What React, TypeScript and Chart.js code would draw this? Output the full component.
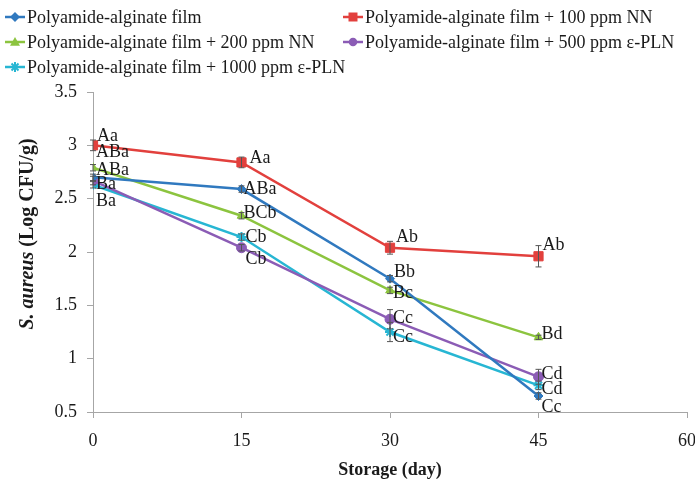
import React, { useEffect, useRef } from "react";
import { Chart, registerables } from "chart.js";

Chart.register(...registerables);

// ---------- data ----------
const days = [0, 15, 30, 45];
const xTicks = [0, 15, 30, 45, 60];
const yTicks = [0.5, 1, 1.5, 2, 2.5, 3, 3.5];

const seriesNames = [
  "Polyamide-alginate film",
  "Polyamide-alginate film + 100 ppm NN",
  "Polyamide-alginate film + 200 ppm NN",
  "Polyamide-alginate film + 500 ppm \u03b5-PLN",
  "Polyamide-alginate film + 1000 ppm \u03b5-PLN",
];

const filmValues = [2.7, 2.59, 1.75, 0.65];
const nn100Values = [3.0, 2.84, 2.04, 1.96];
const nn200Values = [2.79, 2.34, 1.64, 1.2];
const pln500Values = [2.67, 2.04, 1.37, 0.83];
const pln1000Values = [2.63, 2.14, 1.25, 0.75];

const filmErrors = [0.03, 0.03, 0.03, 0.03];
const nn100Errors = [0.05, 0.05, 0.06, 0.1];
const nn200Errors = [0.03, 0.03, 0.03, 0.02];
const pln500Errors = [0.04, 0.03, 0.09, 0.07];
const pln1000Errors = [0.03, 0.03, 0.09, 0.04];

const filmLabels = ["ABa", "ABa", "Bb", "Cc"];
const nn100Labels = ["Aa", "Aa", "Ab", "Ab"];
const nn200Labels = ["ABa", "BCb", "Bc", "Bd"];
const pln500Labels = ["Ba", "Cb", "Cc", "Cd"];
const pln1000Labels = ["Ba", "Cb", "Cc", "Cd"];

// ---------- styling / layout ----------
const colors = ["#3079bf", "#e2403d", "#8cc43f", "#8b5cb5", "#27b6d3"];
const pointStyles = ["rectRot", "rect", "triangle", "circle", "star"];
const pointRadii = [4.5, 6.5, 5, 5, 5];
// label offsets in pixels [dx, dy] per series per point
const labelOffsets = [
  [[3, -7], [2, 0], [4, -6], [3, 11]],
  [[4, -9], [8, -4], [6, -10], [4, -11]],
  [[3, -15], [2, -2], [3, 3], [3, -3]],
  [[3, 4], [4, 12], [3, -1], [3, -3]],
  [[3, 16], [4, 0], [3, 5], [3, 4]],
];

const FONT = "'Liberation Serif', 'Times New Roman', serif";

const allValues = [filmValues, nn100Values, nn200Values, pln500Values, pln1000Values];
const allErrors = [filmErrors, nn100Errors, nn200Errors, pln500Errors, pln1000Errors];
const allLabels = [filmLabels, nn100Labels, nn200Labels, pln500Labels, pln1000Labels];

function drawMarker(ctx: CanvasRenderingContext2D, style: string, x: number, y: number, r: number, color: string) {
  ctx.save();
  ctx.fillStyle = color;
  ctx.strokeStyle = color;
  ctx.lineWidth = 2;
  ctx.beginPath();
  if (style === "rectRot") {
    ctx.moveTo(x, y - r);
    ctx.lineTo(x + r, y);
    ctx.lineTo(x, y + r);
    ctx.lineTo(x - r, y);
    ctx.closePath();
    ctx.fill();
  } else if (style === "rect") {
    ctx.rect(x - r * 0.9, y - r * 0.9, r * 1.8, r * 1.8);
    ctx.fill();
  } else if (style === "triangle") {
    ctx.moveTo(x, y - r);
    ctx.lineTo(x + r, y + r * 0.75);
    ctx.lineTo(x - r, y + r * 0.75);
    ctx.closePath();
    ctx.fill();
  } else if (style === "circle") {
    ctx.arc(x, y, r * 0.85, 0, Math.PI * 2);
    ctx.fill();
  } else {
    ctx.moveTo(x - r, y);
    ctx.lineTo(x + r, y);
    ctx.moveTo(x, y - r);
    ctx.lineTo(x, y + r);
    ctx.moveTo(x - r * 0.7, y - r * 0.7);
    ctx.lineTo(x + r * 0.7, y + r * 0.7);
    ctx.moveTo(x - r * 0.7, y + r * 0.7);
    ctx.lineTo(x + r * 0.7, y - r * 0.7);
    ctx.stroke();
  }
  ctx.restore();
}

const errorBarPlugin = {
  id: "errorBars",
  afterDatasetsDraw(chart: any) {
    const ctx = chart.ctx;
    const xs = chart.scales.x;
    const ys = chart.scales.y;
    ctx.save();
    ctx.strokeStyle = "#555";
    ctx.lineWidth = 1;
    allValues.forEach((vals, si) => {
      vals.forEach((v, i) => {
        const e = allErrors[si][i];
        const px = xs.getPixelForValue(days[i]);
        const top = ys.getPixelForValue(v + e);
        const bot = ys.getPixelForValue(v - e);
        ctx.beginPath();
        ctx.moveTo(px, top);
        ctx.lineTo(px, bot);
        ctx.moveTo(px - 3, top);
        ctx.lineTo(px + 3, top);
        ctx.moveTo(px - 3, bot);
        ctx.lineTo(px + 3, bot);
        ctx.stroke();
      });
    });
    ctx.restore();
  },
};

const pointLabelPlugin = {
  id: "pointLabels",
  afterDatasetsDraw(chart: any) {
    const ctx = chart.ctx;
    const xs = chart.scales.x;
    const ys = chart.scales.y;
    ctx.save();
    ctx.font = `18px ${FONT}`;
    ctx.fillStyle = "#1a1a1a";
    ctx.textAlign = "left";
    ctx.textBaseline = "middle";
    allValues.forEach((vals, si) => {
      vals.forEach((v, i) => {
        const [dx, dy] = labelOffsets[si][i];
        const px = xs.getPixelForValue(days[i]);
        const py = ys.getPixelForValue(v);
        ctx.fillText(allLabels[si][i], px + dx, py + dy);
      });
    });
    ctx.restore();
  },
};

const legendPositions = [
  [5, 17],
  [343, 17],
  [5, 42],
  [343, 42],
  [5, 67],
];

const legendPlugin = {
  id: "customLegend",
  afterDraw(chart: any) {
    const ctx = chart.ctx;
    ctx.save();
    ctx.font = `18px ${FONT}`;
    ctx.fillStyle = "#1a1a1a";
    ctx.textBaseline = "middle";
    ctx.textAlign = "left";
    seriesNames.forEach((name, i) => {
      const [lx, ly] = legendPositions[i];
      ctx.strokeStyle = colors[i];
      ctx.lineWidth = 2.5;
      ctx.beginPath();
      ctx.moveTo(lx, ly);
      ctx.lineTo(lx + 20, ly);
      ctx.stroke();
      drawMarker(ctx, pointStyles[i], lx + 10, ly, 5, colors[i]);
      ctx.fillText(name, lx + 22, ly + 1);
    });
    ctx.restore();
  },
};

const titlesPlugin = {
  id: "axisTitles",
  afterDraw(chart: any) {
    const ctx = chart.ctx;
    const area = chart.chartArea;
    ctx.save();
    ctx.fillStyle = "#1a1a1a";
    ctx.textBaseline = "middle";
    // x title
    ctx.font = `bold 18px ${FONT}`;
    ctx.textAlign = "center";
    ctx.fillText("Storage (day)", (area.left + area.right) / 2, 470);
    // y title (rotated, mixed italic)
    const part1 = "S. aureus";
    const part2 = " (Log CFU/g)";
    const size = 20;
    ctx.font = `italic bold ${size}px ${FONT}`;
    const w1 = ctx.measureText(part1).width;
    ctx.font = `bold ${size}px ${FONT}`;
    const w2 = ctx.measureText(part2).width;
    const total = w1 + w2;
    ctx.translate(28, (area.top + area.bottom) / 2 - 18);
    ctx.rotate(-Math.PI / 2);
    ctx.textAlign = "left";
    ctx.font = `italic bold ${size}px ${FONT}`;
    ctx.fillText(part1, -total / 2, 0);
    ctx.font = `bold ${size}px ${FONT}`;
    ctx.fillText(part2, -total / 2 + w1, 0);
    ctx.restore();
  },
};

export default function App() {
  const canvasRef = useRef<HTMLCanvasElement | null>(null);

  useEffect(() => {
    document.body.style.margin = "0";
    const canvas = canvasRef.current;
    if (!canvas) return;
    const datasets = allValues.map((vals, si) => ({
      label: seriesNames[si],
      data: vals.map((v, i) => ({ x: days[i], y: v })),
      borderColor: colors[si],
      backgroundColor: colors[si],
      borderWidth: 2.5,
      pointStyle: pointStyles[si] as any,
      pointRadius: pointRadii[si],
      pointBorderWidth: si === 4 ? 2 : 1,
      pointBackgroundColor: colors[si],
      pointBorderColor: colors[si],
      tension: 0,
      fill: false,
    }));
    const chart = new Chart(canvas, {
      type: "line",
      data: { datasets },
      options: {
        animation: false,
        responsive: false,
        maintainAspectRatio: false,
        layout: { padding: { top: 92, right: 8, left: 0, bottom: 0 } },
        plugins: {
          legend: { display: false },
          tooltip: { enabled: false },
        },
        scales: {
          x: {
            type: "linear",
            min: xTicks[0],
            max: xTicks[xTicks.length - 1],
            afterBuildTicks: (scale: any) => {
              scale.ticks = xTicks.map((v) => ({ value: v }));
            },
            afterFit: (scale: any) => {
              scale.height = 69;
              scale.paddingLeft = 0;
              scale.paddingRight = 0;
            },
            grid: {
              drawOnChartArea: false,
              drawTicks: true,
              tickLength: 6,
              color: "#a6a6a6",
            },
            border: { color: "#a6a6a6", width: 1 },
            ticks: {
              padding: 12,
              color: "#1a1a1a",
              font: { family: FONT, size: 18 },
              maxRotation: 0,
              callback: (v: any) => String(v),
            },
          },
          y: {
            type: "linear",
            min: yTicks[0],
            max: yTicks[yTicks.length - 1],
            afterBuildTicks: (scale: any) => {
              scale.ticks = yTicks.map((v) => ({ value: v }));
            },
            afterFit: (scale: any) => {
              scale.width = 93;
              scale.paddingTop = 0;
              scale.paddingBottom = 0;
            },
            grid: {
              drawOnChartArea: false,
              drawTicks: true,
              tickLength: 6,
              color: "#a6a6a6",
            },
            border: { color: "#a6a6a6", width: 1 },
            ticks: {
              padding: 10,
              color: "#1a1a1a",
              font: { family: FONT, size: 18 },
              callback: (v: any) => String(v),
            },
          },
        },
      },
      plugins: [errorBarPlugin, pointLabelPlugin, legendPlugin, titlesPlugin],
    });
    return () => chart.destroy();
  }, []);

  return (
    <div style={{ width: 695, height: 481, background: "#fff" }}>
      <canvas ref={canvasRef} width={695} height={481} style={{ display: "block" }} />
    </div>
  );
}
